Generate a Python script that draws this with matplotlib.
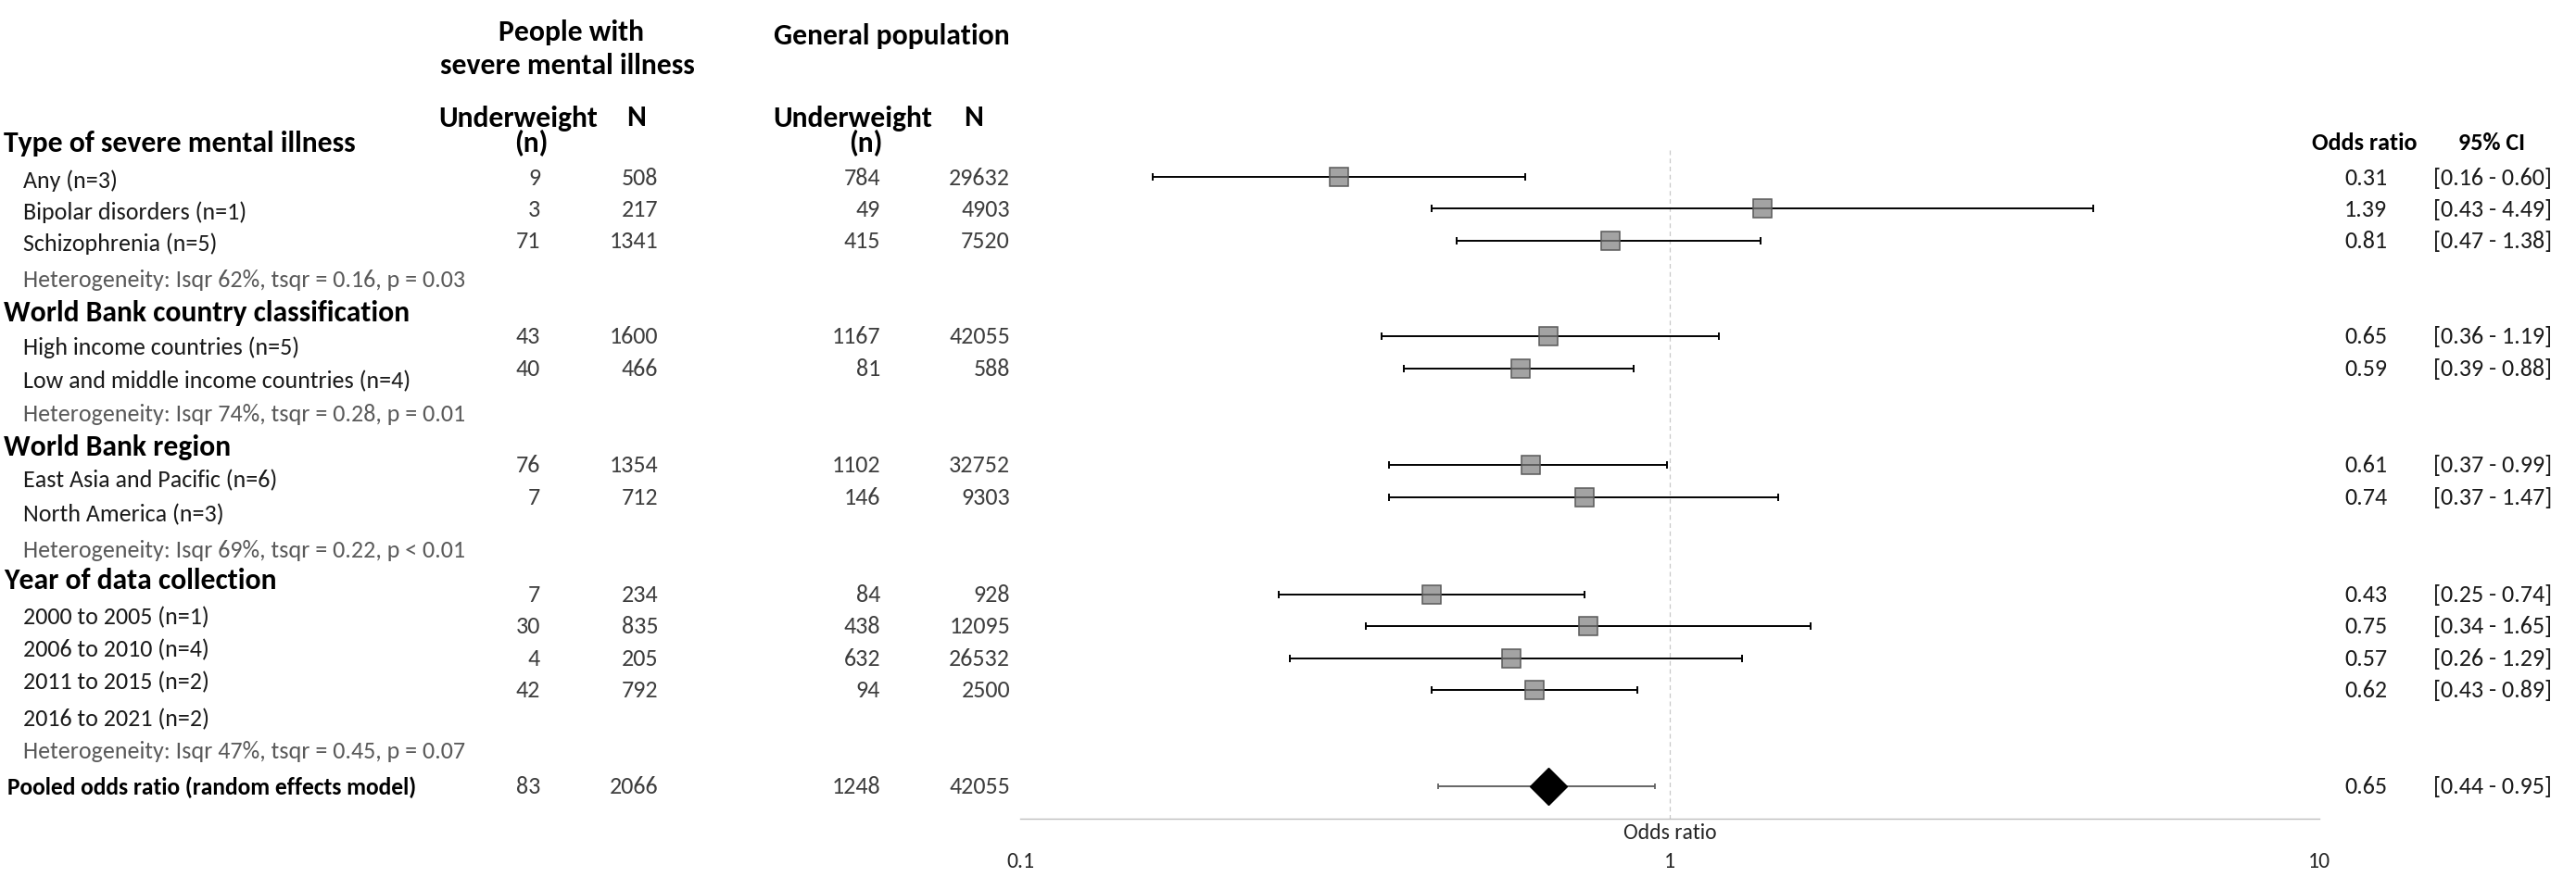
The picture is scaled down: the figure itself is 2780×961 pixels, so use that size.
import matplotlib.pyplot as plt
from matplotlib.ticker import NullLocator

plt.rcParams['font.family'] = ['Carlito', 'Lato', 'DejaVu Sans']

# subgroup rows
labels = ['Any (n=3)', 'Bipolar disorders (n=1)', 'Schizophrenia (n=5)',
          'High income countries (n=5)', 'Low and middle income countries (n=4)',
          'East Asia and Pacific (n=6)', 'North America (n=3)',
          '2000 to 2005 (n=1)', '2006 to 2010 (n=4)', '2011 to 2015 (n=2)',
          '2016 to 2021 (n=2)']
smi_n = [9, 3, 71, 43, 40, 76, 7, 7, 30, 4, 42]
smi_N = [508, 217, 1341, 1600, 466, 1354, 712, 234, 835, 205, 792]
gen_n = [784, 49, 415, 1167, 81, 1102, 146, 84, 438, 632, 94]
gen_N = [29632, 4903, 7520, 42055, 588, 32752, 9303, 928, 12095, 26532, 2500]
odds = [0.31, 1.39, 0.81, 0.65, 0.59, 0.61, 0.74, 0.43, 0.75, 0.57, 0.62]
ci_lo = [0.16, 0.43, 0.47, 0.36, 0.39, 0.37, 0.37, 0.25, 0.34, 0.26, 0.43]
ci_hi = [0.60, 4.49, 1.38, 1.19, 0.88, 0.99, 1.47, 0.74, 1.65, 1.29, 0.89]

groups = ['Type of severe mental illness', 'World Bank country classification',
          'World Bank region', 'Year of data collection']
hetero = ['Heterogeneity: Isqr 62%, tsqr = 0.16, p = 0.03',
          'Heterogeneity: Isqr 74%, tsqr = 0.28, p = 0.01',
          'Heterogeneity: Isqr 69%, tsqr = 0.22, p < 0.01',
          'Heterogeneity: Isqr 47%, tsqr = 0.45, p = 0.07']

pooled_label = 'Pooled odds ratio (random effects model)'
pooled_counts = [83, 2066, 1248, 42055]
pooled_or, pooled_lo, pooled_hi = 0.65, 0.44, 0.95

# layout (pixel rows, top = 0)
label_y = [195, 229, 263, 375, 412, 519, 556, 667, 702, 737, 777]
row_y = [192, 226, 261, 364, 399, 503, 538, 643, 677, 712, 746]
group_y = [155, 338, 483, 627]
hetero_y = [303, 448, 595, 812]
pooled_y = 850

W, H = 2780, 962
fig = plt.figure(figsize=(W / 100, H / 100), dpi=100)
tx = fig.add_axes([0, 0, 1, 1])
tx.set_xlim(0, W)
tx.set_ylim(H, 0)
tx.axis('off')

reg = 18.7
big = 22.8
dark = '#1a1a1a'
numc = '#3d3d3d'

# column headers
tx.text(617, 35, 'People with', ha='center', va='center', fontsize=big, fontweight='bold')
tx.text(612, 71, 'severe mental illness', ha='center', va='center', fontsize=big, fontweight='bold')
tx.text(962, 39, 'General population', ha='center', va='center', fontsize=big, fontweight='bold')
for cx, nx in [(559, 687), (920, 1051)]:
    tx.text(cx, 128, 'Underweight', ha='center', va='center', fontsize=big, fontweight='bold')
    tx.text(cx + 14, 155, '(n)', ha='center', va='center', fontsize=big, fontweight='bold')
    tx.text(nx, 127, 'N', ha='center', va='center', fontsize=big, fontweight='bold')

tx.text(2552, 155, 'Odds ratio', ha='center', va='center', fontsize=18.8, fontweight='bold')
tx.text(2689, 155, '95% CI', ha='center', va='center', fontsize=18.8, fontweight='bold')

# left labels
for g, y in zip(groups, group_y):
    tx.text(4, y, g, ha='left', va='center', fontsize=big, fontweight='bold', color='black')
for lab, y in zip(labels, label_y):
    tx.text(25, y, lab, ha='left', va='center', fontsize=reg, color=dark)
for h, y in zip(hetero, hetero_y):
    tx.text(25, y, h, ha='left', va='center', fontsize=reg, color='#595959')
tx.text(8, pooled_y, pooled_label, ha='left', va='center', fontsize=18.4, fontweight='bold', color='black')

# count columns
col_right = [583, 710, 950, 1090]
for i, y in enumerate(row_y):
    for xr, v in zip(col_right, [smi_n[i], smi_N[i], gen_n[i], gen_N[i]]):
        tx.text(xr, y, str(v), ha='right', va='center', fontsize=reg, color=numc)
    tx.text(2553, y, f'{odds[i]:.2f}', ha='center', va='center', fontsize=reg, color=dark)
    tx.text(2690, y, f'[{ci_lo[i]:.2f} - {ci_hi[i]:.2f}]', ha='center', va='center', fontsize=reg, color=dark)
for xr, v in zip(col_right, pooled_counts):
    tx.text(xr, pooled_y, str(v), ha='right', va='center', fontsize=reg, color=numc)
tx.text(2553, pooled_y, f'{pooled_or:.2f}', ha='center', va='center', fontsize=reg, color=dark)
tx.text(2690, pooled_y, f'[{pooled_lo:.2f} - {pooled_hi:.2f}]', ha='center', va='center', fontsize=reg, color=dark)

# forest plot
ax_left, ax_right, ax_top, ax_bot = 1101, 2503, 150, 885
ax = fig.add_axes([ax_left / W, 1 - ax_bot / H, (ax_right - ax_left) / W, (ax_bot - ax_top) / H])
ax.patch.set_alpha(0)
ax.set_xscale('log')
ax.set_xlim(0.1, 10)
ax.set_ylim(ax_bot, ax_top)
for s in ['top', 'right', 'left']:
    ax.spines[s].set_visible(False)
ax.spines['bottom'].set_color('#bfbfbf')
ax.spines['bottom'].set_linewidth(1.0)
ax.set_yticks([])
ax.set_xticks([0.1, 1, 10])
ax.set_xticklabels(['0.1', '1', '10'])
ax.xaxis.set_minor_locator(NullLocator())
ax.tick_params(axis='x', length=0, pad=25, labelsize=17, labelcolor='#262626')

ax.plot([1, 1], [163, ax_bot], color='#c8c8c8', lw=0.9, dashes=(4, 3))

for o, l, h, y in zip(odds, ci_lo, ci_hi, row_y):
    ax.plot(o, y, marker='s', ms=14.4, mfc=(0.5, 0.5, 0.5, 0.72), mec='#595959', mew=1.1,
            ls='none', zorder=3)
    ax.errorbar(o, y, xerr=[[o - l], [h - o]], fmt='none', ecolor='black', elinewidth=1.4,
                capsize=2.6, capthick=1.4, zorder=2)

ax.errorbar(pooled_or, pooled_y, xerr=[[pooled_or - pooled_lo], [pooled_hi - pooled_or]],
            fmt='none', ecolor='#595959', elinewidth=1.3, capsize=2.0, capthick=1.2, zorder=2)
ax.plot(pooled_or, pooled_y, marker='D', ms=20, color='black', ls='none', zorder=3)

ax.text(1, 900, 'Odds ratio', ha='center', va='center', fontsize=17, color='#262626', clip_on=False)

fig.savefig('out.png', dpi=100, facecolor='white')
